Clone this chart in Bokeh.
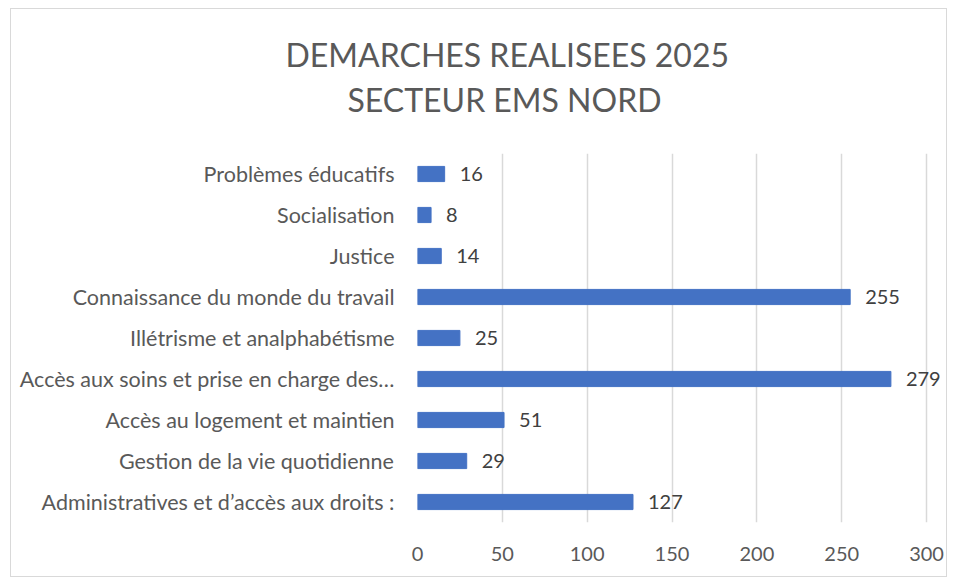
from bokeh.plotting import figure
from bokeh.models import ColumnDataSource, Range1d, FactorRange, Title, LabelSet, FixedTicker
from bokeh.core.properties import value
from bokeh.embed import file_html
from bokeh.resources import INLINE

# Data (bottom to top)
categories = [
    "Administratives et d\u2019acc\u00e8s aux droits :",
    "Gestion de la vie quotidienne",
    "Acc\u00e8s au logement et maintien",
    "Acc\u00e8s aux soins et prise en charge des\u2026",
    "Ill\u00e9trisme et analphab\u00e9tisme",
    "Connaissance du monde du travail",
    "Justice",
    "Socialisation",
    "Probl\u00e8mes \u00e9ducatifs",
]
values = [127, 29, 51, 279, 25, 255, 14, 8, 16]
x_ticks = [0, 50, 100, 150, 200, 250, 300]
title_lines = ["DEMARCHES REALISEES 2025", "SECTEUR EMS NORD"]

FONT = "Lato"
GREY = "#595959"

src = ColumnDataSource(dict(cat=categories, val=values, lbl=[str(v) for v in values]))

W, H = 937, 569
p = figure(
    width=W, height=H,
    y_range=FactorRange(factors=categories),
    x_range=Range1d(0, 310),
    output_backend="svg", toolbar_location=None,
    min_border_left=406, min_border_right=5,
    min_border_top=144, min_border_bottom=56,
)
p.styles = {"border": "1px solid #d9d9d9", "margin-left": "10px", "margin-top": "8px"}
p.outline_line_color = None
p.background_fill_color = "white"
p.border_fill_color = "white"

p.hbar(y="cat", right="val", left=0, height=0.37, source=src,
       fill_color="#4472C4", line_color="#4472C4")
labels = LabelSet(x="val", y="cat", text="lbl", source=src, x_offset=15,
                  text_align="left", text_baseline="middle",
                  text_font=value(FONT), text_font_size=value("20px"),
                  text_color=value("#404040"))
p.add_layout(labels)

# Titles: nearest to the frame first (a blank spacer, then line 2, then line 1)
p.add_layout(Title(text=" ", standoff=0, text_font=FONT, text_font_size="26px"), "above")
p.add_layout(Title(text=title_lines[1], align="left", offset=-70, standoff=2,
                   text_font=FONT, text_font_size="32px", text_font_style="normal",
                   text_color=GREY), "above")
p.add_layout(Title(text=title_lines[0], align="left", offset=-132, standoff=6,
                   text_font=FONT, text_font_size="32px", text_font_style="normal",
                   text_color=GREY), "above")

p.xaxis.ticker = FixedTicker(ticks=x_ticks)
p.xaxis.axis_line_color = None
p.xaxis.major_tick_line_color = None
p.xaxis.minor_tick_line_color = None
p.xaxis.major_label_standoff = 18
p.xaxis.major_label_text_font = FONT
p.xaxis.major_label_text_font_size = "20px"
p.xaxis.major_label_text_color = GREY

p.yaxis.axis_line_color = None
p.yaxis.major_tick_line_color = None
p.yaxis.major_label_standoff = 17
p.yaxis.major_label_text_font = FONT
p.yaxis.major_label_text_font_size = "21.5px"
p.yaxis.major_label_text_color = GREY

p.xgrid.grid_line_color = "#d9d9d9"
p.xgrid.grid_line_width = 1.5
p.ygrid.grid_line_color = None

open("out.html", "w").write(file_html(p, INLINE))
